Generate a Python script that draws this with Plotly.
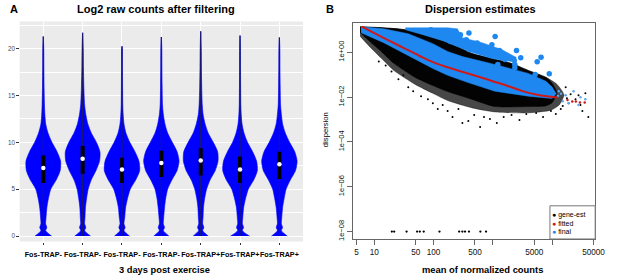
import plotly.graph_objects as go

FONT = "Liberation Sans, Arial, sans-serif"
W, H = 617, 278

# ---------------- Panel A : violins (log2 raw counts) ----------------
group_labels = ["Fos-TRAP-", "Fos-TRAP-", "Fos-TRAP-", "Fos-TRAP-",
                "Fos-TRAP+", "Fos-TRAP+", "Fos-TRAP+"]
violin_levels = [0, 0.3, 0.6, 0.9, 1.3, 2, 3, 4, 5, 6, 7, 8, 9, 10, 11, 12, 13, 14, 16, 18, 20]
# half-widths of each violin (category units) at the levels above
v1_width = [0.21, 0.12, 0.06, 0.09, 0.06, 0.07, 0.09, 0.13, 0.19, 0.33, 0.43, 0.44, 0.35, 0.22, 0.12, 0.06, 0.04, 0.03, 0.02, 0.015, 0.012]
v2_width = [0.20, 0.11, 0.05, 0.08, 0.05, 0.06, 0.07, 0.10, 0.14, 0.22, 0.34, 0.43, 0.44, 0.35, 0.22, 0.13, 0.08, 0.05, 0.03, 0.02, 0.015]
v3_width = [0.19, 0.11, 0.05, 0.08, 0.05, 0.07, 0.09, 0.14, 0.21, 0.35, 0.45, 0.43, 0.33, 0.20, 0.10, 0.05, 0.03, 0.02, 0.015, 0.012, 0.01]
v4_width = [0.19, 0.11, 0.05, 0.08, 0.05, 0.06, 0.08, 0.11, 0.16, 0.27, 0.40, 0.45, 0.40, 0.28, 0.16, 0.09, 0.05, 0.03, 0.02, 0.015, 0.012]
v5_width = [0.19, 0.11, 0.05, 0.08, 0.05, 0.06, 0.07, 0.10, 0.15, 0.24, 0.37, 0.44, 0.43, 0.32, 0.19, 0.11, 0.06, 0.04, 0.025, 0.018, 0.013]
v6_width = [0.24, 0.13, 0.06, 0.09, 0.06, 0.07, 0.09, 0.14, 0.21, 0.35, 0.44, 0.42, 0.32, 0.19, 0.10, 0.05, 0.03, 0.02, 0.015, 0.012, 0.01]
v7_width = [0.20, 0.11, 0.05, 0.08, 0.05, 0.06, 0.08, 0.12, 0.17, 0.28, 0.41, 0.45, 0.39, 0.26, 0.15, 0.08, 0.05, 0.03, 0.02, 0.015, 0.012]
violin_widths = [v1_width, v2_width, v3_width, v4_width, v5_width, v6_width, v7_width]
violin_max = [21.3, 21.7, 20.25, 21.25, 21.85, 21.4, 21.2]
box_q1 = [5.66, 6.65, 5.66, 6.30, 6.47, 5.66, 6.10]
box_median = [7.25, 8.24, 7.10, 7.80, 8.06, 7.10, 7.67]
box_q3 = [8.60, 9.60, 8.35, 9.10, 9.37, 8.48, 9.00]

# ---------------- Panel B : dispersion estimates (log10 units) ----------------
# gene-est cloud, sparse outer envelope
blk_outer_lx = [0.760, 1.159, 1.524, 1.822, 2.154, 2.403, 2.652, 2.984, 3.316, 3.598, 3.897, 4.080, 4.200,
                4.120, 3.980, 3.598, 3.034, 2.652, 2.237, 1.988, 1.690, 1.325, 1.125, 0.926, 0.760]
blk_outer_ly = [1.140, 1.095, 1.007, 0.786, 0.520, 0.255, -0.055, -0.276, -0.497, -0.807, -1.117, -1.420, -1.900,
                -2.350, -2.580, -2.700, -2.660, -2.480, -2.150, -1.830, -1.430, -0.800, -0.280, 0.240, 0.720]
# gene-est cloud, dense core
blk_dense_lx = [0.760, 1.159, 1.524, 1.822, 2.154, 2.403, 2.652, 2.984, 3.316, 3.598, 3.897, 4.000, 4.080,
                4.000, 3.880, 3.598, 3.034, 2.652, 2.237, 1.988, 1.690, 1.325, 1.125, 0.926, 0.760]
blk_dense_ly = [1.140, 1.095, 1.007, 0.786, 0.520, 0.255, -0.055, -0.276, -0.497, -0.807, -1.117, -1.380, -1.800,
                -2.250, -2.400, -2.420, -2.420, -2.100, -1.750, -1.480, -1.120, -0.480, 0.020, 0.480, 0.880]
# scattered gene-est points
blk_pts_lx = [1.076, 1.192, 1.291, 1.407, 1.490, 1.573, 1.656, 1.789, 1.905, 1.988, 2.071, 2.154, 2.237, 2.320,
              2.420, 2.486, 2.586, 2.686, 2.786, 2.851, 2.951, 3.067, 3.183, 3.316, 3.449, 3.565, 3.731, 3.847,
              3.980, 4.146, 4.279, 4.395, 4.478, 4.511, 4.561, 4.611, 4.445, 4.312, 4.229, 4.063, 4.250, 4.180]
blk_pts_ly = [-0.409, -0.586, -0.852, -1.205, -1.028, -1.559, -1.736, -1.958, -2.090, -2.267, -2.533, -2.356, -2.621, -2.887,
              -2.533, -3.152, -3.063, -2.798, -3.329, -2.887, -2.975, -3.152, -2.887, -2.798, -3.019, -2.754, -2.710, -2.887,
              -2.621, -2.533, -2.267, -2.090, -2.356, -2.621, -1.825, -2.887, -1.914, -1.869, -1.559, -2.754, -2.050, -2.400]
# genes with dispersion at the lower bound (1e-08)
floor_lx = [1.296, 1.336, 1.545, 1.723, 1.768, 1.834, 2.100, 2.432, 2.486, 2.531, 2.597, 2.790, 2.885]
floor_ly = [-8.0] * 13
# final estimates, main band
blue_lx = [0.777, 1.159, 1.573, 1.988, 2.237, 2.486, 3.034, 3.598, 3.897, 4.000, 4.070,
           4.000, 3.598, 3.034, 2.569, 2.237, 1.988, 1.573, 1.159, 0.777]
blue_ly = [1.140, 1.051, 0.830, 0.388, 0.034, -0.188, -0.542, -0.940, -1.294, -1.550, -1.850,
           -2.060, -1.958, -1.736, -1.338, -1.028, -0.719, -0.143, 0.432, 0.874]
# final estimates, upper band (dispersion outliers kept)
ublue_lx = [1.524, 2.237, 2.403, 2.486, 2.818, 3.150, 3.399, 3.316, 2.984, 2.652, 2.403, 2.154, 1.822, 1.524]
ublue_ly = [1.095, 1.095, 1.050, 0.653, 0.432, 0.122, -0.232, -0.409, -0.276, -0.011, 0.255, 0.520, 0.786, 1.007]
# final estimates, isolated outliers (large dots)
bdot_lx = [2.552, 2.735, 2.680, 2.597, 3.039, 3.112, 2.956, 3.150, 3.205, 3.399, 3.471, 3.361, 3.371, 3.371, 3.084,
           3.814, 3.748, 3.952, 3.714, 3.565, 2.071, 2.183, 2.237, 2.349, 2.432, 2.558, 2.453, 2.287, 1.955, 2.597,
           2.818, 2.984]
bdot_ly = [0.565, 0.419, 0.268, 0.122, 0.710, 0.078, -0.068, -0.245, -0.320, 0.078, -0.245, -0.365, -0.542, -0.688, -0.542,
           -0.219, -0.422, -0.953, -0.984, -1.130, 0.932, 0.861, 0.786, 0.640, 0.565, 0.419, 0.786, 0.489, 1.007, 0.861,
           0.255, 0.343]
# final estimates at high counts (small dots)
bsmall_lx = [4.229, 4.362, 4.478, 4.279, 4.561, 4.445, 4.113, 4.179, 4.100, 4.150]
bsmall_ly = [-1.914, -1.736, -2.002, -2.267, -2.090, -2.356, -1.736, -2.179, -1.950, -1.850]
# fitted trend
fit_lx = [0.79, 1.0, 1.25, 1.5, 1.75, 2.0, 2.25, 2.5, 2.75, 3.0, 3.25, 3.5, 3.75, 4.0, 4.1]
fit_ly = [1.15, 0.86, 0.52, 0.19, -0.14, -0.45, -0.68, -0.88, -1.08, -1.29, -1.50, -1.73, -1.89, -1.99, -2.02]
fitdot_lx = [4.26, 4.34, 4.40, 4.47, 4.55]
fitdot_ly = [-2.13, -2.19, -2.19, -2.24, -2.24]

x_ticks_B = [5, 10, 50, 100, 500, 1000, 5000, 10000, 50000]
x_ticktext_B = ["5", "10", "50", "100", "500", "", "5000", "", "50000"]
y_ticks_B = [1, 1e-2, 1e-4, 1e-6, 1e-8]
y_ticktext_B = ["1e+00", "1e\u221202", "1e\u221204", "1e\u221206", "1e\u221208"]


def p10(v):
    return [10 ** a for a in v]


fig = go.Figure()

# violins
VBLUE = "#0000FF"
for i, (wd, vmax) in enumerate(zip(violin_widths, violin_max)):
    c = i + 1
    xs = [c + w for w in wd] + [c] + [c - w for w in reversed(wd)]
    ys = list(violin_levels) + [vmax] + list(reversed(violin_levels))
    fig.add_trace(go.Scatter(x=xs, y=ys, fill="toself", fillcolor=VBLUE, mode="lines",
                             line=dict(color=VBLUE, width=0.6, shape="spline", smoothing=0.7),
                             hoverinfo="skip", showlegend=False, xaxis="x", yaxis="y"))
    fig.add_trace(go.Scatter(x=[c, c], y=[0, vmax], mode="lines",
                             line=dict(color="#1a1a60", width=1.1),
                             hoverinfo="skip", showlegend=False, xaxis="x", yaxis="y"))
    fig.add_trace(go.Scatter(x=[c, c], y=[box_q1[i], box_q3[i]], mode="lines",
                             line=dict(color="black", width=4),
                             hoverinfo="skip", showlegend=False, xaxis="x", yaxis="y"))
    fig.add_trace(go.Scatter(x=[c], y=[box_median[i]], mode="markers",
                             marker=dict(color="white", size=4.5),
                             hoverinfo="skip", showlegend=False, xaxis="x", yaxis="y"))

# dispersion panel
DBLUE = "#1E88F0"
RED = "#CC1A1A"
def poly(lx, ly, color, smooth=False):
    fig.add_trace(go.Scatter(x=p10(lx), y=p10(ly), fill="toself", fillcolor=color, mode="lines",
                             line=dict(color=color, width=0.5, shape="spline" if smooth else "linear",
                                       smoothing=0.6),
                             hoverinfo="skip", showlegend=False, xaxis="x2", yaxis="y2"))

poly(blk_outer_lx, blk_outer_ly, "rgba(0,0,0,0.72)", True)
poly(blk_dense_lx, blk_dense_ly, "rgba(0,0,0,0.95)", True)
fig.add_trace(go.Scatter(x=p10(blk_pts_lx), y=p10(blk_pts_ly), mode="markers",
                         marker=dict(color="black", size=2), hoverinfo="skip",
                         showlegend=False, xaxis="x2", yaxis="y2"))
fig.add_trace(go.Scatter(x=p10(floor_lx), y=p10(floor_ly), mode="markers",
                         marker=dict(color="black", size=2.3), hoverinfo="skip",
                         showlegend=False, xaxis="x2", yaxis="y2"))
poly(blue_lx, blue_ly, DBLUE)
poly(ublue_lx, ublue_ly, DBLUE)
fig.add_trace(go.Scatter(x=p10(bdot_lx), y=p10(bdot_ly), mode="markers",
                         marker=dict(color=DBLUE, size=5.5), hoverinfo="skip",
                         showlegend=False, xaxis="x2", yaxis="y2"))
fig.add_trace(go.Scatter(x=p10(bsmall_lx), y=p10(bsmall_ly), mode="markers",
                         marker=dict(color="#5FA8F0", size=2.5), hoverinfo="skip",
                         showlegend=False, xaxis="x2", yaxis="y2"))
fig.add_trace(go.Scatter(x=p10(fit_lx), y=p10(fit_ly), mode="lines",
                         line=dict(color=RED, width=2, shape="spline"), hoverinfo="skip",
                         showlegend=False, xaxis="x2", yaxis="y2"))
fig.add_trace(go.Scatter(x=p10(fitdot_lx), y=p10(fitdot_ly), mode="markers",
                         marker=dict(color=RED, size=2.5), hoverinfo="skip",
                         showlegend=False, xaxis="x2", yaxis="y2"))

def px(x):
    return x / W

def py(y):
    return 1 - y / H

ann = []
def text(t, x, y, size, bold=False, angle=0, xanchor="center", color="black"):
    ann.append(dict(text=("<b>%s</b>" % t) if bold else t, x=px(x), y=py(y), xref="paper", yref="paper",
                    showarrow=False, xanchor=xanchor, yanchor="middle", textangle=angle,
                    font=dict(family=FONT, size=size, color=color)))

text("A", 14.7, 9, 11, bold=True)
text("Log2 raw counts after filtering", 158.5, 9, 11, bold=True)
text("B", 335, 9, 11, bold=True)
text("Dispersion estimates", 488.3, 9, 11, bold=True)
text("3 days post exercise", 167, 271.7, 9.3, bold=True)
text("mean of normalized counts", 490.8, 271.7, 9.4, bold=True)
text("dispersion", 331, 130.5, 7.7, angle=-90)
leg_items = [("gene-est", "black"), ("fitted", RED), ("final", DBLUE)]
for k, (lab, col) in enumerate(leg_items):
    ann.append(dict(text="<span style='color:%s'>\u25CF</span> %s" % (col, lab),
                    x=px(559.5), y=py(216.7 + 8 * k), xref="paper", yref="paper",
                    showarrow=False, xanchor="left", yanchor="middle",
                    font=dict(family=FONT, size=7, color="black")))

shapes = [
    dict(type="rect", xref="x domain", yref="y domain", x0=0, x1=1, y0=0, y1=1,
         fillcolor="#EBEBEB", line=dict(width=0), layer="below"),
    dict(type="rect", xref="paper", yref="paper", x0=px(559), x1=px(605), y0=py(240.7), y1=py(207.3),
         fillcolor="white", line=dict(color="#777", width=1), layer="above"),
]

fig.update_layout(
    width=W, height=H, margin=dict(l=0, r=0, t=0, b=0),
    paper_bgcolor="white", plot_bgcolor="rgba(0,0,0,0)",
    showlegend=False, annotations=ann, shapes=shapes,
    font=dict(family=FONT),
    xaxis=dict(domain=[px(20), px(308)], range=[0.4, 7.6], tickmode="array",
               tickvals=list(range(1, 8)), ticktext=group_labels, tickangle=0,
               tickfont=dict(family=FONT, size=7.2, color="black", weight="bold"),
               showgrid=True, gridcolor="white", gridwidth=1, zeroline=False,
               ticks="outside", ticklen=2.5, tickcolor="#333", ticklabelstandoff=3,
               showline=False, fixedrange=True),
    yaxis=dict(domain=[py(243.3), py(21.7)], range=[-0.59, 22.9], tickmode="array",
               tickvals=[0, 5, 10, 15, 20], tickfont=dict(family=FONT, size=6.3, color="#4D4D4D"),
               showgrid=True, gridcolor="white", gridwidth=1, zeroline=False,
               minor=dict(tickmode="array", tickvals=[2.5, 7.5, 12.5, 17.5, 22.5], showgrid=True,
                          gridcolor="white", gridwidth=0.5, ticks=""),
               ticks="outside", ticklen=2.5, tickcolor="#333", showline=False, fixedrange=True),
    xaxis2=dict(domain=[px(359.3), px(605)], type="log", range=[0.649, 4.727], anchor="y2",
                tickmode="array", tickvals=x_ticks_B, ticktext=x_ticktext_B, tickangle=0,
                tickfont=dict(family=FONT, size=8.2, color="#111"),
                showgrid=False, zeroline=False, showline=True, mirror=True, linecolor="#666",
                linewidth=1, ticks="outside", ticklen=5, tickcolor="#666"),
    yaxis2=dict(domain=[py(240.7), py(22.7)], type="log", range=[-8.33, 1.33], anchor="x2",
                tickmode="array", tickvals=y_ticks_B, ticktext=y_ticktext_B, tickangle=-90,
                tickfont=dict(family=FONT, size=7.5, color="#111"),
                showgrid=False, zeroline=False, showline=True, mirror=True, linecolor="#666",
                linewidth=1, ticks="outside", ticklen=5, tickcolor="#666"),
)

fig.write_html("out.html", config={"displayModeBar": False},
               post_script="document.body.style.margin='0px';document.body.style.overflow='hidden';")
